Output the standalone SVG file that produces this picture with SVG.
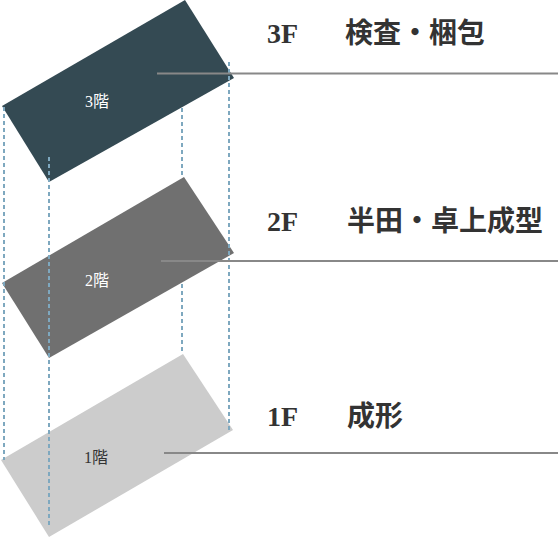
<svg xmlns="http://www.w3.org/2000/svg" width="558" height="537" viewBox="0 0 558 537">
<style>
.dash{stroke:#7ea8bf;stroke-width:2;stroke-dasharray:4 3;fill:none}
.rule{stroke:#888888;stroke-width:2;fill:none}
.fl{font-family:"Liberation Serif","Noto Sans CJK JP",serif;font-size:16px}
.title{font-family:"Liberation Serif","Noto Sans CJK JP",serif;font-size:28px;font-weight:bold;fill:#333333}
</style>
<rect width="558" height="537" fill="#ffffff"/>
<g id="floor3">
<polygon points="185,0 234,78 49,182 2,106" fill="#344a53"/>
<text class="fl" x="97" y="107" text-anchor="middle" fill="#ffffff">3階</text>
</g>
<g id="floor2">
<polygon points="184,177 234,253 49,358 2,283" fill="#707070"/>
<text class="fl" x="97" y="286" text-anchor="middle" fill="#ffffff">2階</text>
</g>
<g id="floor1">
<polygon points="183,354 233,430 49,537 1,460" fill="#cccccc"/>
<text class="fl" x="96" y="463" text-anchor="middle" fill="#333333">1階</text>
</g>
<g id="connectors">
<line class="dash" x1="4" y1="107" x2="4" y2="460"/>
<line class="dash" x1="49" y1="157" x2="49" y2="526"/>
<line class="dash" x1="182" y1="108" x2="182" y2="178"/>
<line class="dash" x1="182" y1="284" x2="182" y2="352"/>
<line class="dash" x1="229" y1="62" x2="229" y2="430"/>
<line class="rule" x1="157" y1="73.5" x2="558" y2="73.5"/>
<line class="rule" x1="161" y1="261" x2="558" y2="261"/>
<line class="rule" x1="164" y1="453" x2="558" y2="453"/>
</g>
<g id="label3">
<text class="title" x="267" y="43">3F</text>
<text class="title" x="345" y="43">検査・梱包</text>
</g>
<g id="label2">
<text class="title" x="267" y="231">2F</text>
<text class="title" x="347" y="231">半田・卓上成型</text>
</g>
<g id="label1">
<text class="title" x="267" y="426">1F</text>
<text class="title" x="347" y="426">成形</text>
</g>
</svg>
